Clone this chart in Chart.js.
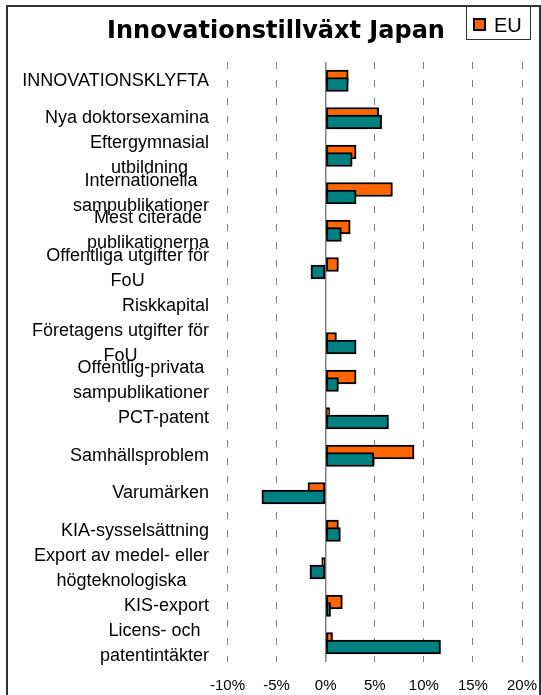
<!DOCTYPE html>
<html lang="sv">
<head>
    <meta charset="UTF-8">
    <title>Innovationstillväxt Japan</title>
    <script src="https://cdn.jsdelivr.net/npm/chart.js@4.4.1/dist/chart.umd.min.js"></script>
    <style>
        body {
            margin: 0;
            background: #fff;
            overflow: hidden;
        }
        .wrap {
            width: 541px;
            height: 695px;
        }
    </style>
</head>
<body>
    <div class="wrap">
        <canvas id="chart" width="541" height="695"></canvas>
    </div>

    <script>
        // Kategorier, radbrytningar som i originalet
        const categories = [
            ['INNOVATIONSKLYFTA'],
            ['Nya doktorsexamina'],
            ['Eftergymnasial', 'utbildning'],
            ['Internationella', 'sampublikationer'],
            ['Mest citerade', 'publikationerna'],
            ['Offentliga utgifter för', 'FoU'],
            ['Riskkapital'],
            ['Företagens utgifter för', 'FoU'],
            ['Offentlig-privata', 'sampublikationer'],
            ['PCT-patent'],
            ['Samhällsproblem'],
            ['Varumärken'],
            ['KIA-sysselsättning'],
            ['Export av medel- eller', 'högteknologiska'],
            ['KIS-export'],
            ['Licens- och', 'patentintäkter']
        ];

        // Tillväxt i procent
        const euValues    = [2.3, 5.4, 3.1, 6.8, 2.5, 1.3, null, 1.1, 3.1, 0.4, 9.0, -1.8, 1.3, -0.4, 1.7, 0.7];
        const japanValues = [2.3, 5.7, 2.7, 3.1, 1.6, -1.5, null, 3.1, 1.3, 6.4, 4.9, -6.5, 1.5, -1.6, 0.5, 11.7];

        const xTicks = [-10, -5, 0, 5, 10, 15, 20];

        const labelRight = 209;   // högerkant för kategoritexterna
        const lineGap = 25;       // radavstånd i flerradiga etiketter

        // Ram, kategoritexter och teckenförklaring
        const ramPlugin = {
            id: 'ram',
            afterDraw(chart) {
                const ctx = chart.ctx;
                const yScale = chart.scales.y;
                ctx.save();

                ctx.strokeStyle = '#333';
                ctx.lineWidth = 2;
                ctx.strokeRect(7, 6, 533, 720);

                ctx.font = '18px "Liberation Sans", Arial, sans-serif';
                ctx.fillStyle = '#000';
                ctx.textBaseline = 'middle';
                ctx.textAlign = 'center';
                categories.forEach((lines, i) => {
                    const mid = yScale.getPixelForValue(i);
                    const w = Math.max(...lines.map(l => ctx.measureText(l).width));
                    const cx = labelRight - w / 2;
                    lines.forEach((l, k) => {
                        ctx.fillText(l, cx, mid + (k - (lines.length - 1) / 2) * lineGap);
                    });
                });

                // bara EU visas i teckenförklaringen
                const eu = chart.data.datasets[0];
                ctx.lineWidth = 1;
                ctx.strokeStyle = '#333';
                ctx.strokeRect(466.5, 6.5, 64, 33);
                ctx.fillStyle = eu.backgroundColor;
                ctx.fillRect(474, 19, 11, 11);
                ctx.lineWidth = 2;
                ctx.strokeStyle = '#000';
                ctx.strokeRect(474, 19, 11, 11);
                ctx.font = '20px "Liberation Sans", Arial, sans-serif';
                ctx.fillStyle = '#000';
                ctx.textAlign = 'left';
                ctx.textBaseline = 'alphabetic';
                ctx.fillText(eu.label, 494, 32);

                ctx.restore();
            }
        };

        const barStyle = {
            borderColor: '#000',
            borderWidth: 2,
            borderSkipped: false,
            barThickness: 14,
            grouped: false
        };

        new Chart(document.getElementById('chart'), {
            type: 'bar',
            data: {
                datasets: [
                    Object.assign({
                        label: 'EU',
                        data: euValues.map((v, i) => ({ x: v, y: i - 0.1 })),
                        backgroundColor: '#FF6600',
                        order: 1
                    }, barStyle),
                    Object.assign({
                        label: 'Japan',
                        data: japanValues.map((v, i) => ({ x: v, y: i + 0.1 })),
                        backgroundColor: '#008080',
                        order: 0
                    }, barStyle)
                ]
            },
            options: {
                indexAxis: 'y',
                responsive: false,
                animation: false,
                layout: { padding: { left: 11, right: 0, top: 0, bottom: 0 } },
                plugins: {
                    legend: { display: false },
                    tooltip: { enabled: false },
                    title: {
                        display: true,
                        text: 'Innovationstillväxt Japan',
                        color: '#000',
                        font: { family: 'DejaVu Sans', size: 24, weight: 'bold' },
                        padding: { top: 17.5, bottom: 15.7 }
                    }
                },
                scales: {
                    x: {
                        type: 'linear',
                        position: 'bottom',
                        min: xTicks[0],
                        max: xTicks[xTicks.length - 1],
                        afterBuildTicks: ax => { ax.ticks = xTicks.map(v => ({ value: v })); },
                        afterFit: ax => { ax.height = 33; ax.paddingRight = 19; },
                        ticks: {
                            callback: v => v + '%',
                            color: '#000',
                            font: { family: 'Liberation Sans', size: 15 },
                            padding: 15
                        },
                        grid: {
                            color: '#808080',
                            lineWidth: c => (c.tick && c.tick.value === 0) ? 1.5 : 1,
                            drawTicks: false
                        },
                        border: {
                            display: false,
                            dash: c => (c.tick && c.tick.value === 0) ? [] : [7, 11]
                        }
                    },
                    y: {
                        type: 'linear',
                        reverse: true,
                        offset: false,
                        min: -0.5,
                        max: categories.length - 0.5,
                        ticks: { display: false },
                        grid: { display: false, offset: false },
                        border: { display: false },
                        afterFit: ax => { ax.width = 216.5; }
                    }
                }
            },
            plugins: [ramPlugin]
        });
    </script>
</body>
</html>
